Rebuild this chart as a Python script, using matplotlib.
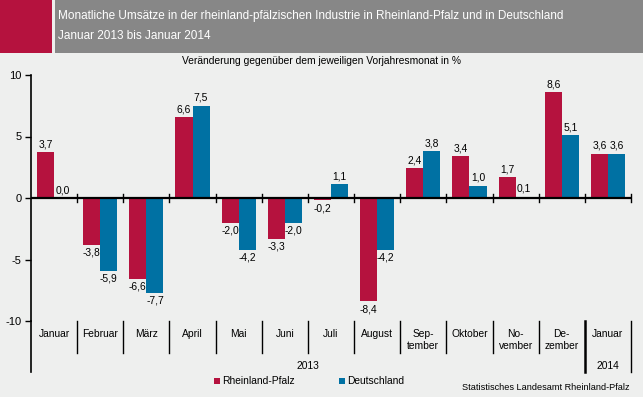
import matplotlib.pyplot as plt
from matplotlib.patches import Rectangle
import numpy as np

plt.rcParams['font.family'] = ['Liberation Sans', 'DejaVu Sans']

# data
monate = ['Januar', 'Februar', 'März', 'April', 'Mai', 'Juni', 'Juli', 'August',
          'Sep-\ntember', 'Oktober', 'No-\nvember', 'De-\nzember', 'Januar']
rlp = [3.7, -3.8, -6.6, 6.6, -2.0, -3.3, -0.2, -8.4, 2.4, 3.4, 1.7, 8.6, 3.6]
de = [0.0, -5.9, -7.7, 7.5, -4.2, -2.0, 1.1, -4.2, 3.8, 1.0, 0.1, 5.1, 3.6]
jahre = ['2013', '2014']
yticks = [-10, -5, 0, 5, 10]

ROT = '#B5123E'
BLAU = '#0071A3'
BG = '#EEEFEE'
W, H = 643, 397


def fx(px):
    return px / W


def fy(py):
    return 1 - py / H


fig = plt.figure(figsize=(6.43, 3.97), dpi=100, facecolor=BG)

# header band
fig.patches.append(Rectangle((0, fy(53)), fx(52), 53 / H, transform=fig.transFigure,
                             facecolor=ROT, edgecolor='none'))
fig.patches.append(Rectangle((fx(55), fy(53)), 1 - fx(55), 53 / H, transform=fig.transFigure,
                             facecolor='#878787', edgecolor='none'))
fig.text(fx(58), fy(16), 'Monatliche Umsätze in der rheinland-pfälzischen Industrie in Rheinland-Pfalz und in Deutschland',
         color='white', fontsize=8.5, va='center', ha='left')
fig.text(fx(58), fy(36), 'Januar 2013 bis Januar 2014', color='white', fontsize=8.5, va='center', ha='left')
fig.text(fx(321), fy(61), 'Veränderung gegenüber dem jeweiligen Vorjahresmonat in %',
         color='black', fontsize=7.4, va='center', ha='center')

ax = fig.add_axes([fx(31), fy(321), 600 / W, 246 / H])
ax.set_facecolor(BG)
x = np.arange(len(monate))
bw = 0.37
ax.bar(x - bw / 2, rlp, bw, color=ROT, zorder=2)
ax.bar(x + bw / 2, de, bw, color=BLAU, zorder=2)

ax.set_xlim(-0.5, len(monate) - 0.5)
ax.set_ylim(-10, 10)
ax.set_yticks(yticks)
ax.set_yticklabels([str(t) for t in yticks], fontsize=8)
ax.tick_params(axis='y', direction='out', length=4, width=1, pad=3)
ax.set_xticks([])
for s in ['top', 'right', 'bottom']:
    ax.spines[s].set_visible(False)
ax.spines['left'].set_linewidth(1.2)
ax.axhline(0, color='black', lw=1.6, zorder=3)
for b in x + 0.5:
    ax.plot([b, b], [-0.33, 0.33], color='black', lw=1, zorder=3, clip_on=False)


def fmt(v):
    return f'{v:.1f}'.replace('.', ',')


for xi, vr, vd in zip(x, rlp, de):
    for off, v in ((-bw / 2, vr), (bw / 2, vd)):
        if v >= 0:
            ax.annotate(fmt(v), (xi + off, v), xytext=(0, 2), textcoords='offset points',
                        ha='center', va='bottom', fontsize=7.4)
        else:
            ax.annotate(fmt(v), (xi + off, v), xytext=(0, -2), textcoords='offset points',
                        ha='center', va='top', fontsize=7.4)

# category axis below the plot
trans = ax.get_xaxis_transform()
y_top = 0.0
y_mon = (321 - 353) / 246
y_bot = (321 - 372) / 246
ax.plot([-0.5, -0.5], [0, y_bot], transform=trans, color='black', lw=1.2, clip_on=False)
for b in x[:-1] + 0.5:
    if b == 11.5:
        ax.plot([b, b], [y_top, y_bot], transform=trans, color='black', lw=1.8, clip_on=False)
    else:
        ax.plot([b, b], [y_top, y_mon], transform=trans, color='black', lw=1, clip_on=False)
ax.plot([12.5, 12.5], [y_top, y_bot], transform=trans, color='black', lw=1, clip_on=False)

for xi, m in zip(x, monate):
    lines = m.split('\n')
    for k, line in enumerate(lines):
        ax.text(xi, (321 - 334 - 12 * k) / 246, line, transform=trans, ha='center', va='center',
                fontsize=7.4)
ax.text(5.5, (321 - 366) / 246, jahre[0], transform=trans, ha='center', va='center', fontsize=7.4)
ax.text(12, (321 - 366) / 246, jahre[1], transform=trans, ha='center', va='center', fontsize=7.4)

# legend
fig.patches.append(Rectangle((fx(214), fy(384)), fx(6), 6 / H, transform=fig.transFigure,
                             facecolor=ROT, edgecolor='none'))
fig.text(fx(222), fy(381), 'Rheinland-Pfalz', fontsize=7.4, va='center', ha='left')
fig.patches.append(Rectangle((fx(339), fy(384)), fx(6), 6 / H, transform=fig.transFigure,
                             facecolor=BLAU, edgecolor='none'))
fig.text(fx(347), fy(381), 'Deutschland', fontsize=7.4, va='center', ha='left')

fig.text(fx(630), fy(388), 'Statistisches Landesamt Rheinland-Pfalz', fontsize=6.6,
         va='center', ha='right')

fig.savefig('out.png', dpi=100, facecolor=BG)
